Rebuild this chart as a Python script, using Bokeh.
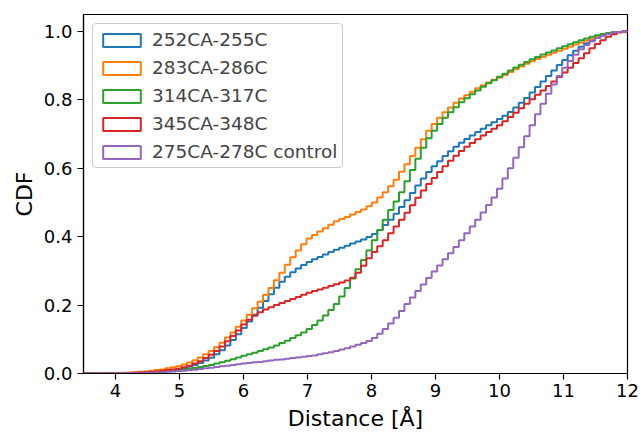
import numpy as np
from bokeh.plotting import figure
from bokeh.models import Range1d, FixedTicker, Legend, LegendItem, NumeralTickFormatter
from bokeh.embed import file_html
from bokeh.resources import INLINE

# Histogram bins (cumulative, normalised)
bin_start, bin_end, n_bins = 3.5, 12.0, 100

names = ["252CA-255C", "283CA-286C", "314CA-317C", "345CA-348C", "275CA-278C control"]
colors = ["#1f77b4", "#ff7f0e", "#2ca02c", "#d62728", "#9467bd"]

cdf_252 = [0, 0, 0, 0, 0,
           0.0005, 0.001, 0.001, 0.0015, 0.002, 0.003,
           0.003, 0.004, 0.005, 0.007, 0.009, 0.011,
           0.013, 0.016, 0.020, 0.025, 0.031, 0.038,
           0.046, 0.056, 0.068, 0.082, 0.098, 0.115,
           0.133, 0.152, 0.172, 0.192, 0.212, 0.232,
           0.251, 0.268, 0.283, 0.296, 0.307, 0.317,
           0.326, 0.334, 0.341, 0.348, 0.355, 0.362,
           0.368, 0.374, 0.380, 0.386, 0.392, 0.399,
           0.408, 0.420, 0.434, 0.450, 0.467,
           0.487, 0.507, 0.528, 0.550, 0.570, 0.589,
           0.606, 0.621, 0.636, 0.650, 0.663, 0.675,
           0.686, 0.696, 0.706, 0.716, 0.726, 0.735,
           0.744, 0.754, 0.765, 0.778, 0.792, 0.806,
           0.822, 0.838, 0.854, 0.870, 0.886, 0.902,
           0.917, 0.931, 0.944, 0.956, 0.966, 0.975,
           0.983, 0.989, 0.994, 0.997, 0.999, 1.0]

cdf_283 = [0, 0, 0, 0.0005, 0.001,
           0.001, 0.0015, 0.002, 0.003, 0.004, 0.005,
           0.006, 0.008, 0.010, 0.012, 0.015, 0.018,
           0.021, 0.026, 0.032, 0.039, 0.047, 0.056,
           0.066, 0.077, 0.090, 0.105, 0.120, 0.137,
           0.155, 0.172, 0.191, 0.210, 0.230, 0.250,
           0.273, 0.295, 0.318, 0.340, 0.360, 0.378,
           0.395, 0.405, 0.415, 0.425, 0.435, 0.445,
           0.452, 0.458, 0.465, 0.472, 0.480, 0.489,
           0.500, 0.515, 0.530, 0.548, 0.567,
           0.590, 0.612, 0.636, 0.660, 0.685, 0.710,
           0.730, 0.748, 0.764, 0.778, 0.792, 0.804,
           0.814, 0.824, 0.834, 0.843, 0.851, 0.859,
           0.865, 0.873, 0.882, 0.890, 0.898, 0.906,
           0.913, 0.920, 0.926, 0.932, 0.938, 0.944,
           0.950, 0.956, 0.962, 0.968, 0.974, 0.979,
           0.984, 0.989, 0.993, 0.996, 0.999, 1.0]

cdf_314 = [0, 0, 0, 0, 0,
           0, 0.0005, 0.001, 0.001, 0.0015, 0.002,
           0.0025, 0.003, 0.004, 0.005, 0.006, 0.007,
           0.009, 0.011, 0.013, 0.016, 0.019, 0.022,
           0.025, 0.029, 0.033, 0.037, 0.042, 0.047,
           0.052, 0.056, 0.061, 0.066, 0.071, 0.076,
           0.082, 0.089, 0.096, 0.104, 0.112, 0.120,
           0.130, 0.142, 0.155, 0.170, 0.186, 0.203,
           0.225, 0.250, 0.278, 0.305, 0.332, 0.360,
           0.390, 0.420, 0.450, 0.478, 0.503,
           0.530, 0.562, 0.595, 0.628, 0.660, 0.688,
           0.710, 0.730, 0.748, 0.764, 0.779, 0.793,
           0.805, 0.817, 0.828, 0.839, 0.849, 0.858,
           0.868, 0.877, 0.886, 0.895, 0.903, 0.911,
           0.919, 0.926, 0.933, 0.939, 0.945, 0.951,
           0.957, 0.963, 0.969, 0.975, 0.980, 0.985,
           0.989, 0.993, 0.996, 0.998, 0.999, 1.0]

cdf_345 = [0, 0, 0, 0, 0,
           0.0005, 0.001, 0.001, 0.0015, 0.002, 0.003,
           0.004, 0.005, 0.006, 0.008, 0.010, 0.012,
           0.014, 0.018, 0.023, 0.029, 0.036, 0.045,
           0.055, 0.066, 0.079, 0.094, 0.110, 0.126,
           0.143, 0.157, 0.169, 0.179, 0.187, 0.194,
           0.200, 0.206, 0.212, 0.218, 0.224, 0.230,
           0.236, 0.241, 0.246, 0.251, 0.256, 0.261,
           0.266, 0.272, 0.280, 0.295, 0.315, 0.337,
           0.355, 0.372, 0.390, 0.410, 0.430,
           0.450, 0.470, 0.492, 0.514, 0.535, 0.554,
           0.572, 0.589, 0.606, 0.622, 0.637, 0.651,
           0.663, 0.674, 0.685, 0.696, 0.706, 0.716,
           0.726, 0.738, 0.750, 0.763, 0.776, 0.789,
           0.802, 0.815, 0.828, 0.841, 0.854, 0.867,
           0.880, 0.894, 0.908, 0.922, 0.937, 0.951,
           0.964, 0.975, 0.985, 0.992, 0.997, 1.0]

cdf_275_control = [0, 0, 0, 0, 0,
                   0, 0, 0.0005, 0.0005, 0.001, 0.001,
                   0.0015, 0.002, 0.003, 0.004, 0.005, 0.006,
                   0.007, 0.008, 0.010, 0.011, 0.013, 0.015,
                   0.017, 0.019, 0.021, 0.023, 0.025, 0.027,
                   0.029, 0.031, 0.033, 0.034, 0.036, 0.038,
                   0.040, 0.041, 0.043, 0.045, 0.047, 0.049,
                   0.051, 0.053, 0.056, 0.059, 0.062, 0.066,
                   0.070, 0.074, 0.079, 0.084, 0.089, 0.095,
                   0.104, 0.116, 0.130, 0.146, 0.163,
                   0.183, 0.203, 0.222, 0.241, 0.260, 0.279,
                   0.298, 0.316, 0.334, 0.352, 0.370, 0.390,
                   0.410, 0.430, 0.450, 0.471, 0.493, 0.515,
                   0.540, 0.570, 0.600, 0.631, 0.662, 0.694,
                   0.726, 0.758, 0.789, 0.818, 0.845, 0.870,
                   0.894, 0.914, 0.932, 0.948, 0.961, 0.972,
                   0.981, 0.988, 0.993, 0.997, 0.999, 1.0]

series = [cdf_252, cdf_283, cdf_314, cdf_345, cdf_275_control]

x_ticks = [4, 5, 6, 7, 8, 9, 10, 11, 12]
y_ticks = [0.0, 0.2, 0.4, 0.6, 0.8, 1.0]

FONT = "DejaVu Sans"

p = figure(width=641, height=437, output_backend="svg", toolbar_location=None,
           x_range=Range1d(bin_start, bin_end), y_range=Range1d(0, 1.05),
           min_border_left=83, min_border_right=14, min_border_top=14, min_border_bottom=64)
p.grid.visible = False
p.outline_line_color = "black"
p.outline_line_width = 1.2
p.background_fill_color = "white"
p.border_fill_color = "white"

for ax in (p.xaxis[0], p.yaxis[0]):
    ax.axis_line_color = "black"
    ax.axis_line_width = 1.2
    ax.major_tick_out = 6
    ax.major_tick_in = 0
    ax.major_tick_line_width = 1.2
    ax.minor_tick_out = 0
    ax.minor_tick_in = 0
    ax.major_label_text_font = FONT
    ax.major_label_text_font_size = "18px"
    ax.major_label_text_color = "black"
    ax.axis_label_text_font = FONT
    ax.axis_label_text_font_size = "22px"
    ax.axis_label_text_font_style = "normal"
    ax.axis_label_text_color = "black"

p.xaxis.ticker = FixedTicker(ticks=x_ticks)
p.yaxis.ticker = FixedTicker(ticks=y_ticks)
p.yaxis.formatter = NumeralTickFormatter(format="0.0")
p.xaxis.axis_label = "Distance [Å]"
p.yaxis.axis_label = "CDF"
p.xaxis.major_label_standoff = 4
p.yaxis.major_label_standoff = 5
p.xaxis.axis_label_standoff = 6
p.yaxis.axis_label_standoff = 4

edges = np.linspace(bin_start, bin_end, n_bins + 1)
items = []
for name, col, vals in zip(names, colors, series):
    yv = list(vals) + [vals[-1]]
    p.step(x=edges, y=yv, mode="after", line_color=col, line_width=2)
    dummy = p.quad(left=[np.nan], right=[np.nan], top=[np.nan], bottom=[np.nan],
                   fill_color=None, line_color=col, line_width=2)
    items.append(LegendItem(label=name, renderers=[dummy]))

legend = Legend(items=items, location="top_left", margin=9,
                padding=5, spacing=7, glyph_width=47, glyph_height=16,
                label_standoff=7, label_text_font=FONT, label_text_font_size="18.5px",
                label_height=20,
                border_line_color="#cccccc", border_line_width=1.2, border_line_alpha=1.0,
                background_fill_alpha=0.8)
if "border_radius" in Legend.properties():
    legend.border_radius = 4
p.add_layout(legend, "center")

open("out.html", "w").write(file_html(p, INLINE))
